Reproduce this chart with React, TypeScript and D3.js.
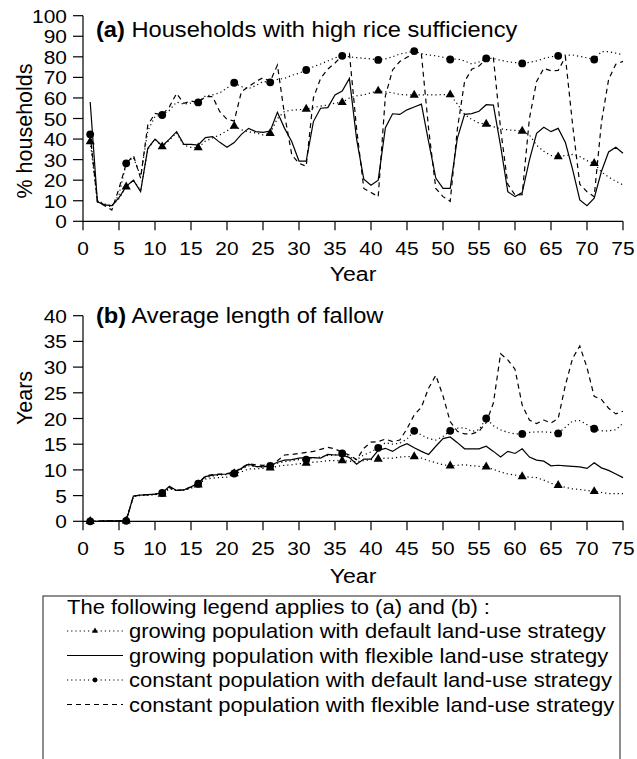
import React, { useEffect, useRef } from 'react';
import * as d3 from 'd3';

// years 1..75 on the x axis, markers every fifth year from year 1
const years = d3.range(1, 76);
const markerYears = [1, 6, 11, 16, 21, 26, 31, 36, 41, 46, 51, 56, 61, 66, 71];
const yearTicks = [0, 5, 10, 15, 20, 25, 30, 35, 40, 45, 50, 55, 60, 65, 70, 75];
const riceTicks = [0, 10, 20, 30, 40, 50, 60, 70, 80, 90, 100];
const fallowTicks = [0, 5, 10, 15, 20, 25, 30, 35, 40];

// (a) % households with high rice sufficiency
const riceGrowDefault = [
  38.7, 10, 8.5, 7.5, 11, 16.8, 20, 15, 35, 40,
  36.3, 39.5, 43, 37, 36, 35.8, 39, 40.5, 42, 44,
  46.3, 44.5, 43.5, 43, 42, 42.8, 50, 53.5, 54, 54.3,
  54.6, 55.3, 56, 56.6, 57.5, 57.8, 60, 61, 61.5, 62.5,
  63.4, 63, 62.5, 61.7, 61.5, 61.4, 61.5, 61.5, 61.5, 61.6,
  61.6, 57, 52, 49.5, 47.8, 47.3, 46, 45, 44.5, 44.2,
  43.9, 42, 37, 34, 32, 31.4, 32, 32.5, 31.5, 29.5,
  28.2, 24, 21.5, 19.5, 17.7,
];
const riceGrowFlexible = [
  58, 9.5, 8, 7.6, 11.5, 17, 20, 14.5, 35.5, 40,
  36.6, 40, 43.6, 37.4, 37.4, 37.1, 40.7, 41.2, 38.4, 36,
  38.3, 42.3, 45.2, 43.6, 43.3, 43.9, 53, 45.2, 38.7, 29.3,
  29.3, 48.5, 55, 55.3, 61.5, 63.4, 69.5, 40, 20.5, 17.5,
  20, 45.5, 52.3, 52, 54.2, 55.6, 57, 38.7, 21, 16,
  16, 40.5, 52, 52.4, 53.5, 56.7, 56.5, 36.7, 14.4, 12,
  14, 29.8, 42.8, 45.7, 43.6, 45.2, 38.3, 25.3, 10.4, 7.6,
  11.2, 24.2, 33.7, 36, 33.1,
];
const riceConstDefault = [
  42.3, 10, 8, 7, 13, 28.2, 31, 22, 44, 51,
  51.7, 54, 58, 57, 57.5, 57.8, 61, 61.5, 62.5, 64.8,
  67.4, 65.5, 64.5, 66, 68, 67.6, 69, 69.5, 71, 72,
  73.6, 75.2, 76.5, 78, 79.5, 80.5, 80, 79.6, 79.3, 79,
  78.5, 79, 80, 81.4, 82, 82.8, 81.5, 80.9, 80.5, 79.8,
  78.7, 79, 78, 76.5, 77.5, 79.2, 79.2, 78.3, 77.6, 77.2,
  76.8, 77.3, 78, 79.2, 80, 80.5, 80.8, 80.9, 80.2, 79.5,
  78.7, 82.5, 82.5, 81.8, 81,
];
const riceConstFlexible = [
  42, 9.5, 7.6, 5.5, 16, 28, 32, 21, 46.8, 52.5,
  51.7, 55.7, 62.2, 57.4, 58.5, 57.8, 60.6, 60.6, 53.3, 49.6,
  48.8, 63, 65.5, 67.9, 69.9, 68, 76, 51.7, 32.3, 28.2,
  26.8, 60, 69.5, 74, 77, 80.5, 81.7, 45, 16, 14,
  12, 61, 73.6, 77.7, 79.8, 81.7, 81.3, 45, 16, 12,
  9.7, 45, 68, 74, 75.5, 79, 79.5, 45, 18, 12.8,
  13, 50, 68, 74.4, 73.2, 73.4, 80, 47, 18, 14.4,
  12, 48, 69, 76.4, 77.8,
];

// (b) average length of fallow, years
const fallowGrowDefault = [
  0, 0, 0.1, 0.1, 0.1, 0.1, 4.9, 5, 5.1, 5.2,
  5.3, 6.3, 6, 6, 6.4, 7.1, 8.2, 8.4, 8.5, 8.6,
  9.3, 9.6, 10.2, 10.2, 10.3, 10.4, 10.7, 10.9, 11, 11.2,
  11.3, 11.5, 11.6, 11.8, 11.8, 11.8, 11.7, 11.6, 11.8, 12,
  12.1, 12.3, 12.3, 12.5, 12.6, 12.6, 12.3, 11.8, 11.4, 11,
  10.8, 10.9, 11, 10.8, 10.7, 10.6, 10.1, 9.6, 9.2, 9,
  8.7, 8.6, 8.5, 8, 7.4, 7, 6.6, 6.3, 6.2, 6,
  5.8, 5.6, 5.4, 5.4, 5.4,
];
const fallowGrowFlexible = [
  0, 0, 0.1, 0.1, 0.1, 0.1, 4.9, 5.1, 5.2, 5.3,
  5.5, 6.8, 6, 6.1, 6.7, 7.4, 8.7, 9, 9.1, 9.2,
  9.5, 10.3, 11.1, 10.7, 10.6, 10.8, 11.5, 11.9, 12, 12.3,
  12.4, 12.4, 12.3, 13, 12.9, 12.9, 12.4, 11.1, 12.1, 12.1,
  13.8, 14.2, 13.6, 14.5, 15.1, 14.3, 13.6, 13, 14.6, 16.1,
  16.4, 15.3, 14.1, 14.1, 14.1, 14.6, 13.6, 12.5, 13.6, 13.2,
  14.1, 12.5, 11.9, 11.7, 10.8, 10.9, 10.8, 10.7, 10.6, 10.3,
  11.4, 10.4, 9.9, 9.2, 8.5,
];
const fallowConstDefault = [
  0, 0, 0.1, 0.1, 0.1, 0.1, 4.9, 5.1, 5.1, 5.2,
  5.5, 6.5, 6, 6.1, 6.6, 7.3, 8.5, 8.8, 9, 9.1,
  9.3, 10.1, 10.8, 10.6, 10.6, 10.8, 11.3, 11.6, 11.8, 12,
  12, 12.3, 12.5, 12.8, 12.9, 13.2, 12.5, 12, 12.9, 13.5,
  14.3, 15.3, 15, 15.2, 16, 17.6, 16.8, 16.1, 15.8, 16.5,
  17.6, 18.1, 18.2, 17.5, 17.8, 20, 18.6, 17.8, 17.3, 17,
  17, 17.3, 17.4, 17.4, 17.3, 17.1, 18.3, 19.5, 19.6, 18.8,
  18, 17.6, 17.6, 17.8, 19.1,
];
const fallowConstFlexible = [
  0, 0, 0.1, 0.1, 0.1, 0.1, 4.9, 5.1, 5.2, 5.3,
  5.5, 6.6, 6, 6.1, 6.7, 7.4, 8.8, 9.1, 9.2, 9.3,
  9.6, 10.4, 11.2, 11, 10.9, 11, 11.8, 12.9, 13, 13.2,
  13.4, 13.6, 14, 14.4, 14.1, 13.4, 12.9, 12, 14.2, 15.4,
  15.5, 16, 15.5, 15.8, 18, 20.7, 22.2, 25.9, 28.4, 24.4,
  19.4, 17.5, 17, 17, 17.5, 19.2, 23, 32.6, 31.4, 29.6,
  22.6, 19.7, 19, 19.7, 19.1, 20, 26.5, 31.7, 34.1, 29.9,
  24.3, 23.7, 22, 20.9, 21.4,
];

const legendTitle = 'The following legend applies to (a) and (b) :';
const legendLabels = [
  'growing population with default land-use strategy',
  'growing population with flexible land-use strategy',
  'constant population with default land-use strategy',
  'constant population with flexible land-use strategy',
];

const FONT = '"Liberation Sans", Arial, Helvetica, sans-serif';
const SX = 1.1; // the original figure is a little stretched sideways

// line styles per series: dotted+triangle, solid, dotted+circle, dashed
const styles = [
  { dash: '1.2,3', marker: 'triangle' },
  { dash: null, marker: null },
  { dash: '1.2,3', marker: 'circle' },
  { dash: '5,4', marker: null },
];

const addText = (g, x, y, str, size, anchor = 'start') =>
  g.append('text')
    .attr('transform', `translate(${x},${y}) scale(${SX},1)`)
    .attr('text-anchor', anchor)
    .style('font-family', FONT).style('font-size', `${size}px`)
    .text(str);

const App = () => {
  const ref = useRef<SVGSVGElement>(null);

  useEffect(() => {
    const svg = d3.select(ref.current);
    svg.selectAll('*').remove();

    const x = d3.scaleLinear().domain([0, 75]).range([83, 623]);
    const triangle = d3.symbol().type(d3.symbolTriangle).size(36);
    const circle = d3.symbol().type(d3.symbolCircle).size(48);

    const panels = [
      {
        tag: '(a)', title: ' Households with high rice sufficiency', titleY: 37,
        ylabel: '% households', ylabelY: 131, ticks: riceTicks, max: 100,
        top: 15.7, bottom: 221.3, tickY: 255, yearY: 281,
        data: [riceGrowDefault, riceGrowFlexible, riceConstDefault, riceConstFlexible],
      },
      {
        tag: '(b)', title: ' Average length of fallow', titleY: 323,
        ylabel: 'Years', ylabelY: 398, ticks: fallowTicks, max: 40,
        top: 315.7, bottom: 521.3, tickY: 555, yearY: 583,
        data: [fallowGrowDefault, fallowGrowFlexible, fallowConstDefault, fallowConstFlexible],
      },
    ];

    panels.forEach(p => {
      const y = d3.scaleLinear().domain([0, p.max]).range([p.bottom, p.top]);
      const g = svg.append('g');

      // axes
      g.append('line').attr('x1', x(0)).attr('x2', x(0)).attr('y1', y(0)).attr('y2', y(p.max))
        .attr('stroke', '#000').attr('stroke-width', 1.2);
      g.selectAll('.yt').data(p.ticks).enter().append('line')
        .attr('x1', x(0) - 10).attr('x2', x(0)).attr('y1', d => y(d)).attr('y2', d => y(d))
        .attr('stroke', '#000').attr('stroke-width', 1.2);
      p.ticks.forEach(d => addText(g, 67, y(d) + 7, d, 19, 'end'));

      g.append('line').attr('x1', x(0)).attr('x2', x(75)).attr('y1', y(0)).attr('y2', y(0))
        .attr('stroke', '#000').attr('stroke-width', 1.2);
      g.selectAll('.xt').data(yearTicks).enter().append('line')
        .attr('x1', d => x(d)).attr('x2', d => x(d)).attr('y1', y(0)).attr('y2', y(0) + 9)
        .attr('stroke', '#000').attr('stroke-width', 1.2);
      yearTicks.forEach(d => addText(g, x(d), p.tickY, d, 19, 'middle'));

      addText(g, x(37.5), p.yearY, 'Year', 21, 'middle');
      g.append('text').attr('transform', `translate(32,${p.ylabelY}) rotate(-90)`)
        .attr('text-anchor', 'middle')
        .style('font-family', FONT).style('font-size', '21.5px').text(p.ylabel);

      const t = g.append('text').attr('transform', `translate(96,${p.titleY}) scale(${SX},1)`)
        .style('font-family', FONT).style('font-size', '21.5px');
      t.append('tspan').style('font-weight', 'bold').text(p.tag);
      t.append('tspan').text(p.title);

      // series
      p.data.forEach((vals, i) => {
        const st = styles[i];
        const line = d3.line<number>().x((d, j) => x(years[j])).y(d => y(d));
        g.append('path').attr('d', line(vals)).attr('fill', 'none')
          .attr('stroke', '#000').attr('stroke-width', 1.2)
          .attr('stroke-dasharray', st.dash);
        if (st.marker) {
          const sym = st.marker === 'triangle' ? triangle : circle;
          g.selectAll(`.m${i}`).data(markerYears).enter().append('path')
            .attr('d', sym()).attr('fill', '#000')
            .attr('transform', d => `translate(${x(d)},${y(vals[d - 1])})`);
        }
      });
    });

    // legend (box runs off the bottom of the page)
    const lg = svg.append('g');
    lg.append('rect').attr('x', 43).attr('y', 596).attr('width', 577).attr('height', 200)
      .attr('fill', 'none').attr('stroke', '#444').attr('stroke-width', 1.2);
    addText(lg, 67, 614, legendTitle, 20);
    const small = [d3.symbol().type(d3.symbolTriangle).size(16), null, d3.symbol().type(d3.symbolCircle).size(18), null];
    legendLabels.forEach((lab, i) => {
      const cy = 631 + i * 24.5;
      lg.append('line').attr('x1', 67).attr('x2', 123).attr('y1', cy).attr('y2', cy)
        .attr('stroke', '#000').attr('stroke-width', 1.1)
        .attr('stroke-dasharray', styles[i].dash);
      const s = small[i];
      if (s) lg.append('path').attr('d', s()).attr('fill', '#000').attr('transform', `translate(95,${cy})`);
      addText(lg, 129, cy + 7, lab, 20);
    });
  }, []);

  return <svg ref={ref} width={637} height={759} style={{ position: 'absolute', left: 0, top: 0, background: '#fff' }} />;
};

export default App;
